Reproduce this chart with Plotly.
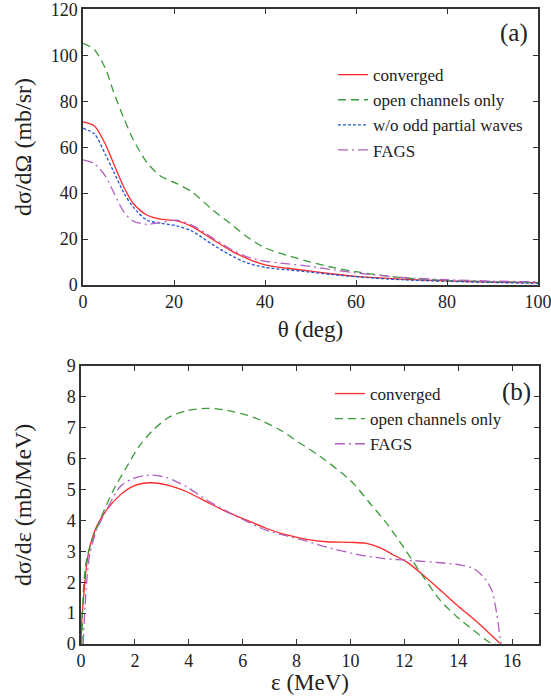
import plotly.graph_objects as go

# ---- panel (a): angular distribution d sigma / d Omega ----
theta = [0, 2.5, 5, 6.7, 9, 11, 14, 17, 20.5, 24, 28.5, 32.3, 36, 40, 45, 50, 55, 60, 70, 80, 90, 100]
conv_a = [71, 69.3, 61, 53, 42.5, 35.6, 30.5, 28.7, 28, 25.4, 19.8, 15.2, 11.6, 8.8, 7.3, 6.0, 4.8, 3.8, 2.6, 1.8, 1.3, 1.0]
open_a = [105.3, 102.5, 94, 84.2, 72.5, 63.5, 53.5, 47.5, 44.3, 40.5, 32.7, 26.9, 21, 16.2, 12.8, 10.0, 7.6, 5.8, 3.2, 2.0, 1.4, 1.0]
odd_a = [68.2, 65.8, 56.5, 49.5, 40, 34, 28.3, 26.9, 25.8, 23.4, 17.6, 13.1, 9.7, 7.7, 6.6, 5.6, 4.5, 3.6, 2.3, 1.6, 1.1, 0.7]
fags_a = [54.5, 52.8, 47.2, 40.5, 31.8, 27.9, 26.4, 27.2, 28.2, 26.0, 20.5, 15.8, 12.3, 10.4, 9.2, 8.1, 6.6, 5.3, 3.3, 2.3, 1.7, 1.4]

# ---- panel (b): energy spectrum d sigma / d epsilon ----
eps_conv = [0, 0.04, 0.11, 0.2, 0.33, 0.58, 0.95, 1.45, 1.94, 2.56, 3.18, 3.92, 4.67, 5.41, 6.15, 6.89, 7.64, 8.38, 9.12,
            10.0, 10.6, 11.1, 11.6, 12.09, 12.77, 13.33, 13.95, 14.69, 15.55]
conv_b = [0, 0.9, 1.64, 2.5, 3.15, 3.8, 4.34, 4.82, 5.11, 5.22, 5.15, 4.93, 4.6, 4.28, 4.01, 3.74, 3.53, 3.39, 3.31,
          3.29, 3.26, 3.12, 2.88, 2.66, 2.18, 1.75, 1.26, 0.72, 0.02]
eps_open = [0.03, 0.1, 0.2, 0.33, 0.7, 1.2, 1.7, 2.19, 2.68, 3.3, 3.92, 4.67, 5.41, 6.4, 7.39, 8.13, 8.87, 10.05,
            10.73, 11.35, 11.96, 12.7, 13.33, 13.95, 14.56, 15.18, 15.4]
open_b = [0, 1.9, 2.7, 3.15, 4.0, 4.98, 5.74, 6.44, 6.93, 7.36, 7.55, 7.63, 7.57, 7.34, 6.93, 6.5, 6.08, 5.25,
          4.55, 3.9, 3.15, 2.18, 1.42, 0.88, 0.45, 0.05, 0]
eps_fags = [0.08, 0.15, 0.22, 0.33, 0.58, 0.95, 1.45, 1.94, 2.56, 3.18, 3.92, 4.67, 5.41, 6.15, 6.89, 7.64, 8.38, 9.12,
            10.1, 11.2, 12.33, 13.33, 14.07, 14.56, 14.93, 15.24, 15.43, 15.55, 15.6]
fags_b = [0, 1.2, 2.1, 2.93, 3.69, 4.34, 5.09, 5.36, 5.47, 5.39, 5.09, 4.66, 4.3, 3.97, 3.68, 3.5, 3.33, 3.14,
          2.93, 2.77, 2.7, 2.63, 2.56, 2.45, 2.18, 1.75, 0.99, 0.24, 0]

RED = "#ff2a2a"
GREEN = "#3a9a3a"
BLUE = "#2255cc"
PURPLE = "#b060c0"
FONT = "Liberation Serif, Times New Roman, Times, serif"

fig = go.Figure()

def add(x, y, name, color, dash, xa, ya, legend):
    fig.add_trace(go.Scatter(x=x, y=y, name=name, mode="lines",
                             line=dict(color=color, dash=dash, width=1.3, shape="spline", smoothing=0.8),
                             xaxis=xa, yaxis=ya, legend=legend))

add(theta, conv_a, "converged", RED, "solid", "x", "y", "legend")
add(theta, open_a, "open channels only", GREEN, "8px,5px", "x", "y", "legend")
add(theta, odd_a, "w/o odd partial waves", BLUE, "3px,2px", "x", "y", "legend")
add(theta, fags_a, "FAGS", PURPLE, "10px,4px,2px,4px", "x", "y", "legend")

add(eps_conv, conv_b, "converged", RED, "solid", "x2", "y2", "legend2")
add(eps_open, open_b, "open channels only", GREEN, "8px,5px", "x2", "y2", "legend2")
add(eps_fags, fags_b, "FAGS", PURPLE, "10px,4px,2px,4px", "x2", "y2", "legend2")

axcommon = dict(showgrid=False, zeroline=False, showline=True, linecolor="#333", linewidth=1.5,
                mirror="ticks", ticks="inside", ticklen=5, tickcolor="#333", automargin=False,
                ticklabeloverflow="allow",
                tickfont=dict(family=FONT, size=18, color="#222"))
TITLEFONT = dict(family=FONT, size=23, color="#222")
YTITLEFONT = dict(family=FONT, size=24, color="#222")

fig.update_layout(
    width=551, height=700,
    margin=dict(l=40, r=5, t=5, b=5),
    paper_bgcolor="white", plot_bgcolor="white",
    font=dict(family=FONT, color="#222"),
    showlegend=True,
    xaxis=dict(domain=[0.0850, 0.9842], range=[0, 100], dtick=20, anchor="y",
               title=dict(text="θ (deg)", font=TITLEFONT, standoff=10), **axcommon),
    yaxis=dict(domain=[0.5942, 0.9935], range=[0, 120], dtick=20, anchor="x", **axcommon),
    xaxis2=dict(domain=[0.0810, 0.9862], range=[0, 17], dtick=2, anchor="y2", **axcommon),
    yaxis2=dict(domain=[0.0739, 0.4768], range=[0, 9], dtick=1, anchor="x2", **axcommon),
    legend=dict(x=0.579, y=0.9245, xanchor="left", yanchor="top", bgcolor="rgba(0,0,0,0)",
                font=dict(family=FONT, size=17, color="#222"), tracegroupgap=0, itemwidth=30),
    legend2=dict(x=0.573, y=0.4623, xanchor="left", yanchor="top", bgcolor="rgba(0,0,0,0)",
                 font=dict(family=FONT, size=17, color="#222"), tracegroupgap=0, itemwidth=30),
    annotations=[
        dict(text="dσ/dΩ (mb/sr)", x=-0.0336, y=0.7942, xref="paper", yref="paper", textangle=-90,
             xanchor="center", yanchor="middle", showarrow=False, font=YTITLEFONT),
        dict(text="dσ/dε (mb/MeV)", x=-0.0336, y=0.2754, xref="paper", yref="paper", textangle=-90,
             xanchor="center", yanchor="middle", showarrow=False, font=YTITLEFONT),
        dict(text="ε (MeV)", x=0.5336, y=0.0188, xref="paper", yref="paper",
             xanchor="center", yanchor="middle", showarrow=False, font=TITLEFONT),
        dict(text="(a)", x=0.968, y=0.9594, xref="paper", yref="paper", xanchor="right", yanchor="middle",
             showarrow=False, font=dict(family=FONT, size=25, color="#222")),
        dict(text="(b)", x=0.974, y=0.4391, xref="paper", yref="paper", xanchor="right", yanchor="middle",
             showarrow=False, font=dict(family=FONT, size=25, color="#222")),
    ],
)

fig.write_html("out.html", config={"displayModeBar": False},
               post_script="document.body.style.margin='0px';")
